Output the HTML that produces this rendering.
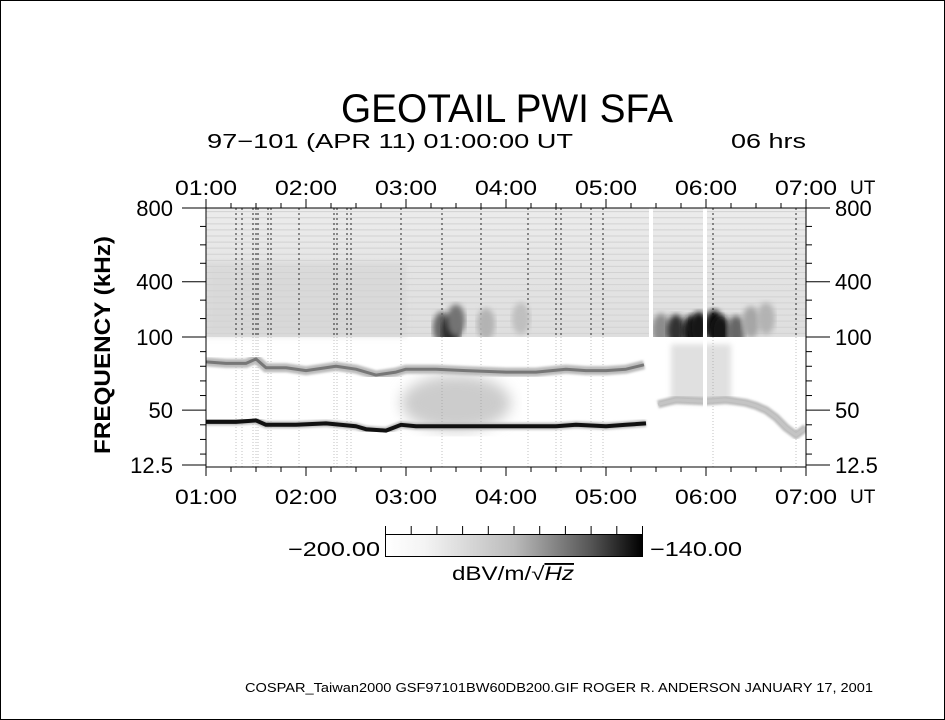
<!DOCTYPE html>
<html><head><meta charset="utf-8">
<style>
html,body{margin:0;padding:0;background:#fff;}
svg{display:block;font-family:"Liberation Sans",sans-serif;}
</style></head>
<body>
<svg id="chart" width="945" height="720" viewBox="0 0 945 720" xmlns="http://www.w3.org/2000/svg">
<defs>
<linearGradient id="cbar" x1="0" x2="1" y1="0" y2="0"><stop offset="0" stop-color="#fff"/><stop offset="0.15" stop-color="#f4f4f4"/><stop offset="0.5" stop-color="#bbb"/><stop offset="0.8" stop-color="#555"/><stop offset="1" stop-color="#000"/></linearGradient>
<linearGradient id="upper" x1="0" x2="0" y1="0" y2="1"><stop offset="0" stop-color="#ececec"/><stop offset="0.5" stop-color="#e4e4e4"/><stop offset="1" stop-color="#dedede"/></linearGradient>
<filter id="blur3"><feGaussianBlur stdDeviation="3"/></filter>
<filter id="blur6"><feGaussianBlur stdDeviation="7"/></filter>
<filter id="blur1"><feGaussianBlur stdDeviation="1"/></filter>
<clipPath id="plotclip"><rect x="206" y="208" width="600" height="259"/></clipPath>
<clipPath id="upperclip"><rect x="206" y="208" width="600" height="129"/></clipPath>
</defs>
<rect x="0.5" y="0.5" width="944" height="719" fill="#fff" stroke="#000"/>
<text x="507" y="122" font-size="40" text-anchor="middle" textLength="332" lengthAdjust="spacingAndGlyphs">GEOTAIL PWI SFA</text>
<text x="207" y="148" font-size="20" textLength="366" lengthAdjust="spacingAndGlyphs">97−101 (APR 11) 01:00:00 UT</text>
<text x="731" y="148" font-size="20" textLength="75" lengthAdjust="spacingAndGlyphs">06 hrs</text>
<text transform="translate(110,345) rotate(-90)" font-size="22" font-weight="bold" text-anchor="middle" textLength="218" lengthAdjust="spacingAndGlyphs">FREQUENCY (kHz)</text>
<g id="plot" clip-path="url(#plotclip)"></g>
<g id="axes"></g>
<g>
<rect x="385.5" y="534.5" width="257" height="22" fill="url(#cbar)" stroke="#000"/>
<g id="cbticks"></g>
<text x="380" y="556" font-size="20" text-anchor="end" textLength="92" lengthAdjust="spacingAndGlyphs">−200.00</text>
<text x="650" y="556" font-size="20" textLength="92" lengthAdjust="spacingAndGlyphs">−140.00</text>
<text x="513" y="580" font-size="19" text-anchor="middle" textLength="122" lengthAdjust="spacingAndGlyphs">dBV/m/√<tspan font-style="italic" text-decoration="overline">Hz</tspan></text>
</g>
<text x="245" y="692" font-size="12.5" textLength="628" lengthAdjust="spacingAndGlyphs">COSPAR_Taiwan2000 GSF97101BW60DB200.GIF  ROGER R. ANDERSON  JANUARY 17, 2001</text>
</svg>
<script>
const hourTicks=[1,2,3,4,5,6,7];
const hourLabels=["01:00","02:00","03:00","04:00","05:00","06:00","07:00"];
const freqMajor=[800,400,100,50,12.5];
const freqMajorLabels=["800","400","100","50","12.5"];
const freqMinor=[700,600,500,300,200,90,80,70,60,40,30,20];
const band1T=[1.0,1.2,1.4,1.5,1.6,1.8,2.0,2.3,2.5,2.7,2.9,3.0,3.3,3.6,4.0,4.3,4.6,4.8,5.0,5.2,5.38];
const band1F=[83,82,82,85,79,79,77,80,78,74,76,78,78,77,76,76,78,77,77,78,81];
const band2T=[1.0,1.3,1.5,1.6,1.9,2.2,2.5,2.6,2.8,2.95,3.1,3.5,4.0,4.5,4.7,5.0,5.2,5.4];
const band2F=[42,42,43,40,40,41,39,37,36,40,39,39,39,39,40,39,40,41];
const band3T=[5.52,5.7,6.0,6.2,6.4,6.5,6.6,6.7,6.8,6.9,7.0];
const band3F=[54,57,56,57,55,53,50,45,38,33,38];
const streakT=[1.3,1.36,1.47,1.5,1.52,1.62,1.65,1.93,2.28,2.31,2.41,2.45,2.95,3.36,3.75,4.22,4.5,4.55,4.85,4.97,6.07,6.9];
const blobT=[3.36,3.45,3.5,3.8,4.15,5.55,5.7,5.85,5.93,6.08,6.15,6.3,6.45,6.6];
const blobF=[150,130,190,170,200,140,135,130,150,160,130,130,180,200];
const blobLevel=[0.6,0.85,0.55,0.3,0.25,0.45,0.8,0.9,0.9,0.95,0.9,0.6,0.35,0.3];
const gapT=[5.45,5.99];

const NS="http://www.w3.org/2000/svg";
const X=h=>206+(h-1)*100;
const Y=f=>f>=100?337-(f-100)*0.1843:337+(100-f)*1.4634;
function mk(parent,tag,attrs){const e=document.createElementNS(NS,tag);for(const k in attrs)e.setAttribute(k,attrs[k]);parent.appendChild(e);return e;}
const plot=document.getElementById('plot');
const axes=document.getElementById('axes');

let e=mk(plot,'rect',{x:206,y:208,width:600,height:129,fill:'url(#upper)'});


e=mk(plot,'rect',{x:206,y:262,width:200,height:75,fill:'#d4d4d4',opacity:0.6,filter:'url(#blur3)'});


for(let f=120;f<800;f+=33){
  e=mk(plot,'line',{x1:206,x2:806,y1:Y(f),y2:Y(f),stroke:'#d2d2d2','stroke-width':1});
  
  
}
e=mk(plot,'ellipse',{cx:X(3.5),cy:Y(55),rx:55,ry:28,fill:'#cccccc',filter:'url(#blur6)'});


e=mk(plot,'rect',{x:X(5.65),y:Y(95),width:60,height:Y(55)-Y(95),fill:'#e0e0e0',filter:'url(#blur3)'});


streakT.forEach(t=>{
  e=mk(plot,'line',{x1:X(t),x2:X(t),y1:208,y2:337,stroke:'#333','stroke-width':1.5,'stroke-dasharray':'2 3',opacity:0.7});
  
  
  e=mk(plot,'line',{x1:X(t),x2:X(t),y1:337,y2:467,stroke:'#999','stroke-width':1,'stroke-dasharray':'1 2',opacity:0.6});
  
  
});
const ug=mk(plot,'g',{'clip-path':'url(#upperclip)'});
blobT.forEach((t,i)=>{
  const g=Math.round(255*(1-blobLevel[i]));
  e=mk(ug,'ellipse',{cx:X(t),cy:Y(blobF[i]),rx:9,ry:16,fill:`rgb(${g},${g},${g})`,filter:'url(#blur3)'});
  
  
});
function band(T,F,w,col,halo,name){
  const pts=T.map((t,i)=>X(t)+','+Y(F[i])).join(' ');
  e=mk(plot,'polyline',{points:pts,fill:'none',stroke:'#bbb','stroke-width':halo,filter:'url(#blur1)'});
  
  
  e=mk(plot,'polyline',{points:pts,fill:'none',stroke:col,'stroke-width':w,'stroke-linejoin':'round'});
  
  
}
band(band1T,band1F,3,'#777',9,'plasma-band-upper');
band(band2T,band2F,4,'#111',7,'plasma-band-lower');
band(band3T,band3F,3,'#c4c4c4',8,'plasma-band-late');
gapT.forEach(t=>{
  e=mk(plot,'rect',{x:X(t)-2,y:208,width:4,height:259,fill:'#fff'});
  
  
});

e=mk(axes,'rect',{x:206,y:208,width:600,height:259,fill:'none',stroke:'#000','stroke-width':1});


for(let q=0;q<=24;q++){
  const h=1+q/4, maj=q%4===0, len=maj?9:5;
  e=mk(axes,'line',{x1:X(h),x2:X(h),y1:208,y2:208-len,stroke:'#000'});
  
  
  e=mk(axes,'line',{x1:X(h),x2:X(h),y1:467,y2:467+len,stroke:'#000'});
  
  
}
hourTicks.forEach((h,i)=>{
  e=mk(axes,'text',{x:X(h),y:195,'font-size':21,'text-anchor':'middle',textLength:62,lengthAdjust:'spacingAndGlyphs'});e.textContent=hourLabels[i];
  
  
  e=mk(axes,'text',{x:X(h),y:504,'font-size':21,'text-anchor':'middle',textLength:62,lengthAdjust:'spacingAndGlyphs'});e.textContent=hourLabels[i];
  
  
});
[194,503].forEach(yy=>{
  e=mk(axes,'text',{x:850,y:yy,'font-size':19});e.textContent='UT';
  
  
});
freqMajor.forEach((f,i)=>{
  e=mk(axes,'line',{x1:182,x2:206,y1:Y(f),y2:Y(f),stroke:'#000'});
  
  
  e=mk(axes,'line',{x1:806,x2:830,y1:Y(f),y2:Y(f),stroke:'#000'});
  
  
  e=mk(axes,'text',{x:173,y:Y(f)+8,'font-size':22,'text-anchor':'end'});e.textContent=freqMajorLabels[i];
  
  
  e=mk(axes,'text',{x:835,y:Y(f)+8,'font-size':22});e.textContent=freqMajorLabels[i];
  
  
});
freqMinor.forEach(f=>{
  e=mk(axes,'line',{x1:200,x2:206,y1:Y(f),y2:Y(f),stroke:'#000'});
  
  
  e=mk(axes,'line',{x1:806,x2:812,y1:Y(f),y2:Y(f),stroke:'#000'});
  
  
});
const cb=document.getElementById('cbticks');
for(let i=0;i<=10;i++){
  const x=385.5+i*25.7;
  e=mk(cb,'line',{x1:x,x2:x,y1:526,y2:534,stroke:'#000'});
  
  
}
</script>
</body></html>
